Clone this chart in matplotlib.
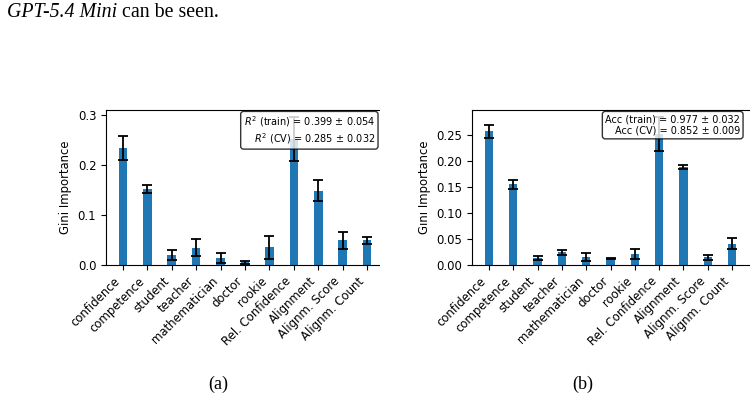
import matplotlib.pyplot as plt
from matplotlib.patches import Rectangle

features = ["confidence", "competence", "student", "teacher", "mathematician",
            "doctor", "rookie", "Rel. Confidence", "Alignment", "Alignm. Score",
            "Alignm. Count"]

# (a) regression model
gini_a = [0.234, 0.151, 0.019, 0.034, 0.014, 0.005, 0.035, 0.251, 0.148, 0.049, 0.049]
err_a = [0.024, 0.008, 0.010, 0.017, 0.010, 0.003, 0.023, 0.044, 0.021, 0.017, 0.007]
score_a = "$R^2$ (train) = 0.399 ± 0.054\n$R^2$ (CV) = 0.285 ± 0.032"

# (b) classification model
gini_b = [0.257, 0.155, 0.014, 0.0245, 0.0155, 0.012, 0.021, 0.252, 0.188, 0.0145, 0.041]
err_b = [0.013, 0.008, 0.004, 0.005, 0.008, 0.001, 0.010, 0.032, 0.004, 0.005, 0.010]
score_b = "Acc (train) = 0.977 ± 0.032\nAcc (CV) = 0.852 ± 0.009"

W, H = 755, 399
fig = plt.figure(figsize=(W / 100, H / 100), dpi=100)


def panel(rect, vals, errs, score):
    ax = fig.add_axes(rect)
    x = range(len(features))
    ax.bar(x, vals, width=0.35, yerr=errs, color="#1f77b4",
           error_kw=dict(ecolor="black", capsize=3.5, elinewidth=1.3, capthick=1.3))
    ax.set_xticks(list(x))
    ax.set_xticklabels(features, rotation=45, ha="right", fontsize=8.4)
    ax.tick_params(axis="y", labelsize=8.4)
    ax.set_ylabel("Gini Importance", fontsize=8.4)
    ax.spines["right"].set_visible(False)
    ax.text(0.968, 0.972, score, transform=ax.transAxes, ha="right", va="top",
            multialignment="right", fontsize=7, zorder=10,
            bbox=dict(boxstyle="round,pad=0.3", facecolor="white",
                      edgecolor="black", alpha=0.8))
    return ax


# positions in pixels -> figure fraction
ax_a = panel([106 / W, 1 - 265 / H, 278 / W, 155 / H], gini_a, err_a, score_a)
ax_b = panel([472 / W, 1 - 265 / H, 277 / W, 155 / H], gini_b, err_b, score_b)

# the left sub-figure is cropped on its right side
fig.patches.append(Rectangle((380 / W, 90 / H), 38 / W, 1 - 100 / H,
                             transform=fig.transFigure, facecolor="white",
                             edgecolor="none", zorder=20))

# running text of the page above the figure
serif = "Liberation Serif"
t = fig.text(7 / W, 1 - 22 / H, "GPT-5.4 Mini", family=serif, style="italic",
             fontsize=14.3, va="bottom")
ax_a.annotate(" can be seen.", xy=(1, 0), xycoords=t, va="bottom", ha="left",
              family=serif, fontsize=14.3, annotation_clip=False)

fig.text(218 / W, 1 - 389 / H, "(a)", family=serif, fontsize=13,
         ha="center", va="baseline")
fig.text(583 / W, 1 - 389 / H, "(b)", family=serif, fontsize=13,
         ha="center", va="baseline")

fig.savefig("out.png", dpi=100)
